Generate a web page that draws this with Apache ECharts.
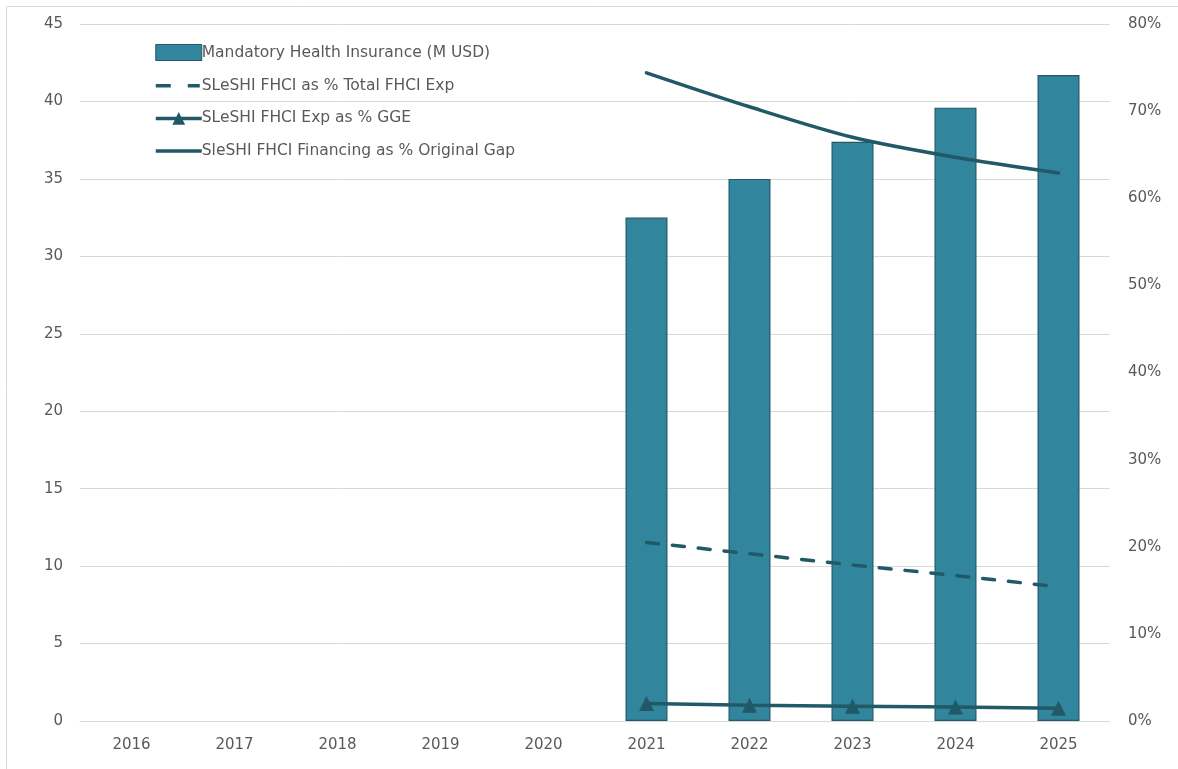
<!DOCTYPE html>
<html>
<head>
<meta charset="utf-8">
<script src="https://cdn.jsdelivr.net/npm/echarts@6/dist/echarts.min.js"></script>
<style>
  html, body { margin: 0; padding: 0; background: #fff; }
  #chart { width: 1178px; height: 769px; }
</style>
</head>
<body>
<div id="chart"></div>
<script>
// Years on the category axis
var years = ['2016', '2017', '2018', '2019', '2020', '2021', '2022', '2023', '2024', '2025'];

// Mandatory Health Insurance, million USD (left axis)
var mhiMillionUsd = [null, null, null, null, null, 32.5, 35.0, 37.4, 39.6, 41.7];

// Percentage series (right axis, in %)
var shareTotalFhciExp = [null, null, null, null, null, 20.5, 19.2, 17.9, 16.7, 15.4];
var shareGge = [null, null, null, null, null, 2.0, 1.8, 1.7, 1.6, 1.45];
var shareOriginalGap = [null, null, null, null, null, 74.4, 70.5, 67.0, 64.7, 62.9];

var seriesNames = [
  'Mandatory Health Insurance (M USD)',
  'SLeSHI FHCI as % Total FHCI Exp',
  'SLeSHI FHCI Exp as % GGE',
  'SleSHI FHCI Financing as % Original Gap'
];

var barColor = '#31859C';
var lineColor = '#215968';
var textColor = '#595959';
var gridColor = '#D9D9D9';
var fontFamily = '"DejaVu Sans", "Noto Sans", sans-serif';

// Legend glyphs: a plain stroke and a two-dash stroke
var solidIcon = 'path://M0,0h46v3.5h-46z';
var dashedIcon = 'path://M0,0h15v3.5h-15z M32,0h12v3.5h-12z M44,0h2v0h-2z';

var chart = echarts.init(document.getElementById('chart'), null, { renderer: 'canvas' });

chart.setOption({
  animation: false,
  backgroundColor: '#ffffff',
  graphic: [{
    type: 'rect',
    shape: { x: 6.5, y: 6.5, width: 1300, height: 900 },
    style: { fill: 'none', stroke: '#D9D9D9', lineWidth: 1 },
    silent: true,
    z: -10
  }],
  grid: { left: 80, right: 68, top: 24, bottom: 48 },
  legend: {
    orient: 'vertical',
    left: 149,
    top: 39,
    itemGap: 16.7,
    itemWidth: 46,
    itemHeight: 16,
    symbolKeepAspect: true,
    textStyle: { color: textColor, fontSize: 15.5, fontFamily: fontFamily, padding: [0, 0, 0, -5] },
    data: [
      { name: seriesNames[0], icon: 'rect', itemStyle: { borderColor: lineColor, borderWidth: 1 } },
      { name: seriesNames[1], icon: dashedIcon },
      { name: seriesNames[2], lineStyle: { width: 3.5 } },
      { name: seriesNames[3], icon: solidIcon }
    ]
  },
  xAxis: {
    type: 'category',
    data: years,
    axisLine: { show: true, lineStyle: { color: gridColor, width: 1 } },
    axisTick: { show: false },
    axisLabel: { color: textColor, fontSize: 15, fontFamily: fontFamily, margin: 17 }
  },
  yAxis: [{
    type: 'value',
    min: 0,
    max: 45,
    interval: 5,
    axisLine: { show: false },
    axisTick: { show: false },
    splitLine: { lineStyle: { color: gridColor, width: 1 } },
    axisLabel: { color: textColor, fontSize: 15, fontFamily: fontFamily, margin: 17 }
  }, {
    type: 'value',
    min: 0,
    max: 80,
    interval: 10,
    axisLine: { show: false },
    axisTick: { show: false },
    splitLine: { show: false },
    axisLabel: { color: textColor, fontSize: 15, fontFamily: fontFamily, margin: 18, formatter: '{value}%' }
  }],
  series: [{
    name: seriesNames[0],
    type: 'bar',
    yAxisIndex: 0,
    data: mhiMillionUsd,
    barWidth: 42,
    itemStyle: { color: barColor, borderColor: lineColor, borderWidth: 1.2 }
  }, {
    name: seriesNames[1],
    type: 'line',
    yAxisIndex: 1,
    data: shareTotalFhciExp,
    showSymbol: false,
    symbol: 'none',
    itemStyle: { color: lineColor },
    lineStyle: { color: lineColor, width: 3.5, type: [12, 14], cap: 'round' },
    z: 3
  }, {
    name: seriesNames[2],
    type: 'line',
    yAxisIndex: 1,
    data: shareGge,
    symbol: 'triangle',
    symbolSize: 15,
    itemStyle: { color: lineColor },
    lineStyle: { color: lineColor, width: 3.5 },
    z: 3
  }, {
    name: seriesNames[3],
    type: 'line',
    yAxisIndex: 1,
    data: shareOriginalGap,
    smooth: 0.3,
    symbol: 'none',
    itemStyle: { color: lineColor },
    lineStyle: { color: lineColor, width: 3.5, cap: 'round' },
    z: 3
  }]
});
</script>
</body>
</html>
